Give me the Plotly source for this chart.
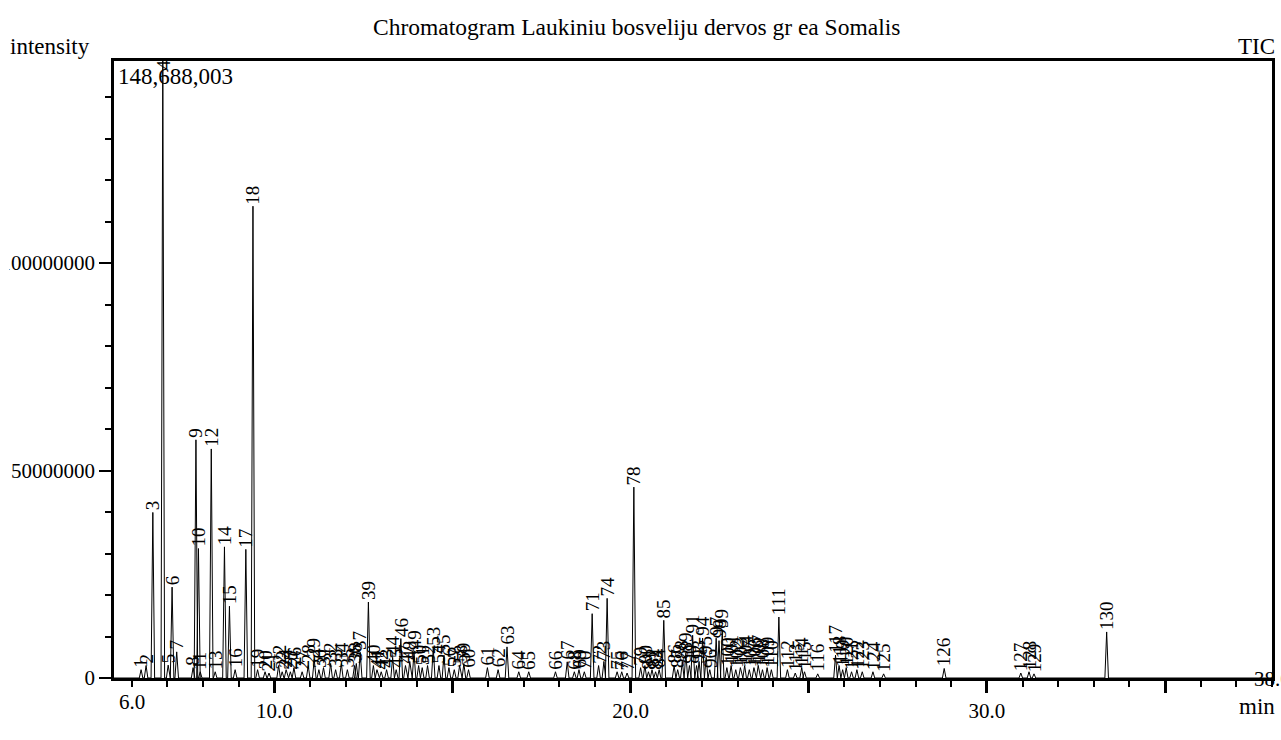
import plotly.graph_objects as go

# ---- data ----
peak_ids = list(range(1, 131))
retention_min = [
    6.26, 6.40, 6.59, 6.87, 7.02, 7.13, 7.26, 7.72, 7.80, 7.87,
    7.92, 8.23, 8.34, 8.60, 8.74, 8.90, 9.20, 9.40, 9.53, 9.74,
    9.85, 10.12, 10.22, 10.33, 10.45, 10.55, 10.78, 10.95, 11.12, 11.25,
    11.38, 11.58, 11.72, 11.88, 12.05, 12.25, 12.41, 12.30, 12.64, 12.78,
    12.88, 13.00, 13.15, 13.32, 13.42, 13.55, 13.68, 13.80, 13.92, 14.05,
    14.15, 14.30, 14.46, 14.62, 14.76, 14.90, 15.05, 15.20, 15.32, 15.45,
    15.98, 16.28, 16.53, 16.86, 17.14, 17.89, 18.22, 18.42, 18.55, 18.70,
    18.92, 19.10, 19.25, 19.34, 19.62, 19.75, 19.90, 20.09, 20.28, 20.40,
    20.50, 20.60, 20.70, 20.80, 20.93, 21.22, 21.32, 21.45, 21.55, 21.65,
    21.74, 21.85, 21.92, 22.02, 22.12, 22.22, 22.40, 22.48, 22.57, 22.70,
    22.82, 22.95, 23.08, 23.20, 23.33, 23.46, 23.58, 23.70, 23.83, 23.95,
    24.16, 24.40, 24.62, 24.80, 24.88, 25.25, 25.75, 25.85, 25.95, 26.05,
    26.20, 26.35, 26.50, 26.80, 27.10, 28.80, 30.95, 31.18, 31.32, 33.36,
]
intensity = [
    2.0e6, 3.0e6, 39.9e6, 148688003, 3.1e6, 21.9e6, 6.3e6, 2.5e6, 57.4e6, 31.2e6,
    1.5e6, 55.2e6, 1.5e6, 31.6e6, 17.3e6, 2.0e6, 31.0e6, 113.7e6, 2.0e6, 1.5e6,
    1.2e6, 3.0e6, 1.5e6, 2.0e6, 1.5e6, 2.5e6, 1.5e6, 3.0e6, 4.5e6, 2.0e6,
    2.5e6, 3.5e6, 2.0e6, 3.5e6, 2.0e6, 3.0e6, 6.2e6, 3.5e6, 18.3e6, 3.0e6,
    2.0e6, 1.5e6, 2.0e6, 5.0e6, 2.0e6, 9.5e6, 3.0e6, 4.0e6, 6.3e6, 3.0e6,
    2.5e6, 3.0e6, 7.2e6, 3.0e6, 5.5e6, 2.5e6, 2.0e6, 3.0e6, 3.5e6, 2.0e6,
    2.5e6, 2.0e6, 7.5e6, 1.5e6, 1.5e6, 1.5e6, 3.9e6, 1.5e6, 2.0e6, 1.5e6,
    15.5e6, 3.0e6, 4.0e6, 19.2e6, 1.5e6, 1.5e6, 1.2e6, 46.0e6, 2.5e6, 3.0e6,
    1.5e6, 2.0e6, 1.5e6, 2.0e6, 13.9e6, 3.0e6, 2.0e6, 4.0e6, 6.0e6, 3.0e6,
    10.3e6, 3.0e6, 4.0e6, 9.6e6, 5.0e6, 2.0e6, 9.6e6, 9.0e6, 11.5e6, 2.5e6,
    3.0e6, 2.0e6, 2.5e6, 3.0e6, 2.0e6, 2.5e6, 3.0e6, 2.0e6, 2.5e6, 2.0e6,
    14.7e6, 2.0e6, 1.2e6, 2.5e6, 1.5e6, 1.0e6, 5.5e6, 3.0e6, 2.0e6, 2.5e6,
    1.5e6, 2.0e6, 1.5e6, 1.5e6, 1.0e6, 2.3e6, 1.2e6, 1.5e6, 1.0e6, 11.1e6,
]
x_tick_vals = [10, 15, 20, 25, 30, 35]
x_tick_text = ["10.0", "", "20.0", "", "30.0", ""]
x_edge_vals = [6.0, 38.0]
x_edge_text = ["6.0", "38.0"]
y_tick_vals = [0, 50000000, 100000000]
y_tick_text = ["0", "50000000", "100000000"]

X_RANGE = [5.5, 38.0]
Y_MAX = 148688003
HALF_W = 0.05
FONT = "Liberation Serif"

# build the trace from the peak table
pts = sorted(zip(retention_min, intensity))
xs, ys = [X_RANGE[0]], [0]
for rt, h in pts:
    xs += [rt - HALF_W, rt, rt + HALF_W]
    ys += [0, h, 0]
xs.append(X_RANGE[1])
ys.append(0)

W, H = 1281, 740
L, R, T, B = 114, 9, 61, 62
pw, ph = W - L - R, H - T - B


def px(xp):
    return (xp - L) / pw


def py(yp):
    return (H - B - yp) / ph


fig = go.Figure()
fig.add_trace(go.Scatter(x=xs, y=ys, mode="lines",
                         line=dict(color="black", width=1), hoverinfo="skip"))

ann = []
for pid, rt, h in zip(peak_ids, retention_min, intensity):
    if h >= Y_MAX * 0.98:
        ann.append(dict(x=rt, y=Y_MAX, xref="x", yref="y", text=str(pid),
                        textangle=-90, showarrow=False, xanchor="center",
                        yanchor="top", yshift=3,
                        font=dict(family=FONT, size=19, color="black")))
    else:
        ann.append(dict(x=rt, y=h, xref="x", yref="y", text=str(pid),
                        textangle=-90, showarrow=False, xanchor="center",
                        yanchor="bottom", yshift=0,
                        font=dict(family=FONT, size=19, color="black")))

ann.append(dict(x=x_edge_vals[0], y=py(702), xref="x", yref="paper", text=x_edge_text[0],
                showarrow=False, xanchor="center", yanchor="middle",
                font=dict(family=FONT, size=21, color="black")))
ann.append(dict(x=x_edge_vals[1], y=py(679), xref="x", yref="paper", text=x_edge_text[1],
                showarrow=False, xanchor="center", yanchor="middle",
                font=dict(family=FONT, size=21, color="black")))

ann += [
    dict(x=px(116), y=py(76), xref="paper", yref="paper", text="148,688,003",
         showarrow=False, xanchor="left", yanchor="middle",
         font=dict(family=FONT, size=23, color="black")),
    dict(x=px(8), y=py(47), xref="paper", yref="paper", text="intensity",
         showarrow=False, xanchor="left", yanchor="middle",
         font=dict(family=FONT, size=23, color="black")),
    dict(x=px(1277), y=py(47), xref="paper", yref="paper", text="TIC",
         showarrow=False, xanchor="right", yanchor="middle",
         font=dict(family=FONT, size=23, color="black")),
    dict(x=px(1277), y=py(706), xref="paper", yref="paper", text="min",
         showarrow=False, xanchor="right", yanchor="middle",
         font=dict(family=FONT, size=23, color="black")),
    dict(x=px(636), y=py(27), xref="paper", yref="paper",
         text="Chromatogram Laukiniu bosveliju dervos gr ea Somalis",
         showarrow=False, xanchor="center", yanchor="middle",
         font=dict(family=FONT, size=23.5, color="black")),
]

fig.update_layout(annotations=ann)

# the reference's left edge clips the first digits of the top y label
fig.add_shape(type="rect", xref="paper", yref="paper",
              x0=px(-5), x1=px(9), y0=py(280), y1=py(245),
              fillcolor="white", line=dict(width=0), layer="above")

fig.update_layout(
    width=W, height=H,
    margin=dict(l=L, r=R, t=T, b=B, pad=0, autoexpand=False),
    paper_bgcolor="white", plot_bgcolor="white",
    showlegend=False,
    font=dict(family=FONT, color="black"),
    xaxis=dict(range=X_RANGE, showgrid=False, zeroline=False, automargin=False,
               showline=True, linecolor="black", linewidth=2.5, mirror=True,
               tickmode="array", tickvals=x_tick_vals, ticktext=x_tick_text,
               ticks="outside", ticklen=12, tickwidth=2.5, tickcolor="black",
               tickfont=dict(family=FONT, size=21, color="black"),
               minor=dict(tickmode="linear", tick0=0, dtick=1, ticks="outside",
                          ticklen=6, tickwidth=2, tickcolor="black")),
    yaxis=dict(range=[0, Y_MAX], showgrid=False, zeroline=False, automargin=False,
               showline=True, linecolor="black", linewidth=2.5, mirror=True,
               tickmode="array", tickvals=y_tick_vals, ticktext=y_tick_text,
               ticks="outside", ticklen=12, tickwidth=2, tickcolor="black",
               tickfont=dict(family=FONT, size=21, color="black"),
               minor=dict(tickmode="linear", tick0=0, dtick=10000000, ticks="outside",
                          ticklen=6, tickwidth=2, tickcolor="black")),
)

fig.write_html("out.html", config={"displayModeBar": False},
               post_script="document.body.style.margin='0';")
